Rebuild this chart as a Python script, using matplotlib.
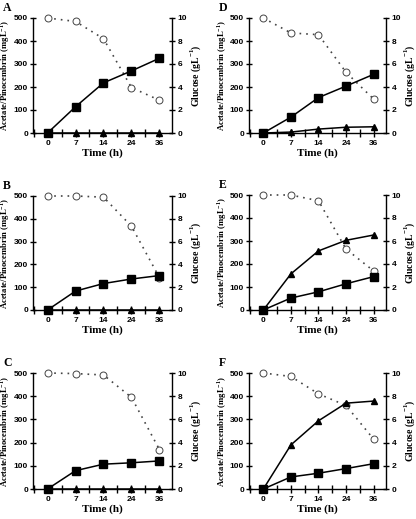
import matplotlib.pyplot as plt
import numpy as np

plt.rcParams['font.family'] = ['Liberation Serif', 'DejaVu Serif']
plt.rcParams['mathtext.fontset'] = 'custom'
plt.rcParams['mathtext.bf'] = 'Liberation Serif:bold'
plt.rcParams['mathtext.rm'] = 'Liberation Serif'

time_labels = ['0', '7', '14', '24', '36']
panels = ['A', 'B', 'C', 'D', 'E', 'F']

pinocembrin = {
    'A': [0, 114, 218, 270, 325],
    'B': [0, 83, 116, 136, 151],
    'C': [0, 79, 107, 113, 121],
    'D': [0, 69, 154, 204, 255],
    'E': [0, 52, 79, 114, 145],
    'F': [0, 52, 68, 88, 109],
}
acetate = {
    'A': [0, 0, 0, 0, 0],
    'B': [0, 0, 0, 0, 0],
    'C': [0, 0, 0, 0, 0],
    'D': [0, 4, 17, 25, 27],
    'E': [0, 157, 257, 303, 326],
    'F': [0, 190, 294, 370, 379],
}
glucose = {
    'A': [10, 9.7, 8.2, 3.95, 2.85],
    'B': [10, 10, 9.9, 7.35, 2.85],
    'C': [10, 9.95, 9.83, 7.9, 3.4],
    'D': [10, 8.7, 8.55, 5.28, 2.95],
    'E': [10, 10, 9.5, 5.3, 3.4],
    'F': [10, 9.7, 8.2, 7.2, 4.3],
}

# axes boxes in pixels: left, right, top (500), bottom (0)
boxes = {
    'A': (33, 172, 18, 133),
    'B': (33, 172, 196, 310),
    'C': (33, 172, 373, 489),
    'D': (249, 386, 18, 133),
    'E': (249, 386, 195, 310),
    'F': (249, 386, 373, 489),
}

W, H = 416, 519
fig = plt.figure(figsize=(W / 100, H / 100), dpi=100)
x = np.arange(len(time_labels))
tickfont = dict(family='Liberation Sans', weight='bold', size=6)

for p in panels:
    l, r, t, b = boxes[p]
    ax = fig.add_axes([l / W, 1 - b / H, (r - l) / W, (b - t) / H])
    ax2 = ax.twinx()

    ax2.plot(x, glucose[p], ls=(0, (1, 3)), color='#444444', lw=1.2,
             marker='o', ms=5, mfc='white', mec='#444444', mew=0.7, clip_on=False)
    ax.plot(x, pinocembrin[p], '-', color='black', lw=1.1, marker='s', ms=5.5, clip_on=False, zorder=5)
    ax.plot(x, acetate[p], '-', color='black', lw=1.1, marker='^', ms=4.5, clip_on=False, zorder=6)
    ax.set_zorder(ax2.get_zorder() + 1)
    ax.patch.set_visible(False)

    ax.set_xlim(-0.52, 4.45)
    ax.set_ylim(0, 500)
    ax2.set_ylim(0, 10)
    ax.set_yticks([0, 100, 200, 300, 400, 500])
    ax2.set_yticks([0, 2, 4, 6, 8, 10])
    ax.set_xticks(x)
    ax.set_xticklabels(time_labels)
    ax.set_xticks(np.arange(-0.5, 4.5, 0.5), minor=True)

    for a in (ax, ax2):
        a.spines['top'].set_visible(False)
        for s in a.spines.values():
            s.set_linewidth(1.0)
    ax.spines['right'].set_visible(False)
    ax2.spines['left'].set_visible(False)
    ax2.spines['bottom'].set_visible(False)

    ax.tick_params(axis='both', which='both', direction='inout', width=1.0)
    ax.tick_params(axis='x', which='major', length=6, pad=2)
    ax.tick_params(axis='x', which='minor', length=6)
    ax.tick_params(axis='y', length=5, pad=1)
    ax2.tick_params(axis='y', direction='inout', length=5, width=1.0, pad=1.5)
    for lab in ax.get_xticklabels() + ax.get_yticklabels() + ax2.get_yticklabels():
        lab.set_fontproperties(tickfont)

    ax.set_xlabel('Time (h)', fontsize=8, fontweight='bold', labelpad=1)
    ax.set_ylabel(r'Acetate/Pinocembrin (mgL$^{\mathbf{-1}}$)', fontsize=6.2, fontweight='bold')
    ax.yaxis.set_label_coords(-0.148, 0.5)
    ax2.set_ylabel(r'Glucose (gL$^{\mathbf{-1}}$)', fontsize=7, fontweight='bold', rotation=90, labelpad=1)
    fig.text((l - 30) / W, 1 - (t - 16) / H, p, fontsize=8.5, fontweight='bold', va='top', ha='left')

fig.savefig('out.png', dpi=100)
